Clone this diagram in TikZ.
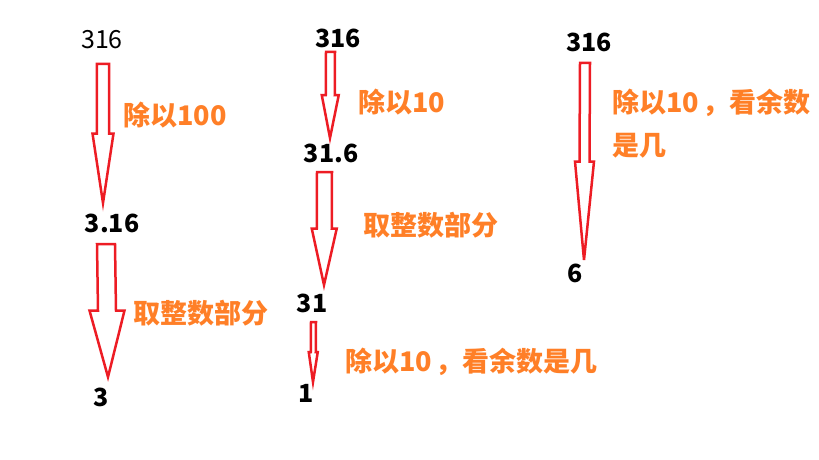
\documentclass[tikz,border=0pt]{standalone}
\usepackage{fontspec}
\setmainfont{Noto Sans CJK SC}
\usetikzlibrary{calc}

\definecolor{arrowred}{RGB}{237,28,36}
\definecolor{notetext}{RGB}{255,127,39}

\tikzset{
  num/.style={inner sep=0pt, font=\fontsize{25}{28}\selectfont\bfseries},
  note/.style={inner sep=0pt, anchor=west, text=notetext, font=\fontsize{27}{43}\selectfont\bfseries},
  blockarrow/.style={draw=arrowred, line width=2.5pt, line join=miter}
}

% block arrow: top, tip, shaft half width, head half width
\newcommand{\blockarr}[4]{%
  \coordinate (mid) at ($(#1)!0.5!(#2)$);
  \draw[blockarrow] ($(#1)+(-#3,0)$) -- ($(#1)+(#3,0)$) -- ($(mid)+(#3,0)$)
    -- ($(mid)+(#4,0)$) -- (#2) -- ($(mid)+(-#4,0)$) -- ($(mid)+(-#3,0)$) -- cycle;
}
\newcommand{\cm}{\kern3pt，}

\begin{document}
\begin{tikzpicture}[x=1pt,y=-1pt]
\useasboundingbox (0,0) rectangle (819,460);

% first column
\node[num, font=\fontsize{25}{28}\selectfont] (n316) at (102,40) {316};
\node[num] (n3p16) at (112,223) {3.16};
\node[num] (n3) at (101,397) {3};
\node[note] (ndiv) at (123,115) {除以100};
\node[note] (nint) at (133,313) {取整数部分};

\coordinate (a1s) at (103,64);
\coordinate (a1e) at (103,203);
\coordinate (a2s) at (106,244);
\coordinate (a2e) at (108,377);
\blockarr{a1s}{a1e}{6.2}{10.5}
\blockarr{a2s}{a2e}{9}{17.5}

% second column
\node[num] (m316) at (338,38) {316};
\node[num] (m31p6) at (331,153) {31.6};
\node[num] (m31) at (312,303) {31};
\node[num] (m1) at (306,393) {1};
\node[note] (mdiv) at (358,102) {除以10};
\node[note] (mint) at (363,225) {取整数部分};
\node[note] (mrem) at (345,362) {除以10\cm 看余数是几};

\coordinate (b1s) at (330.5,52);
\coordinate (b1e) at (330,138);
\coordinate (b2s) at (324.5,172);
\coordinate (b2e) at (324,285);
\coordinate (b3s) at (313.5,322);
\coordinate (b3e) at (313,382);
\blockarr{b1s}{b1e}{4.5}{8.5}
\blockarr{b2s}{b2e}{7.5}{12.5}
\blockarr{b3s}{b3e}{2.5}{4.5}

% third column
\node[num] (r316) at (589,42) {316};
\node[num] (r6) at (575,273) {6};
\node[note, align=left] (rrem) at (612,123.5) {除以10\cm 看余数\\是几};

\coordinate (c1s) at (585,63);
\coordinate (c1e) at (584,260);
\blockarr{c1s}{c1e}{5}{9.5}
\end{tikzpicture}
\end{document}
